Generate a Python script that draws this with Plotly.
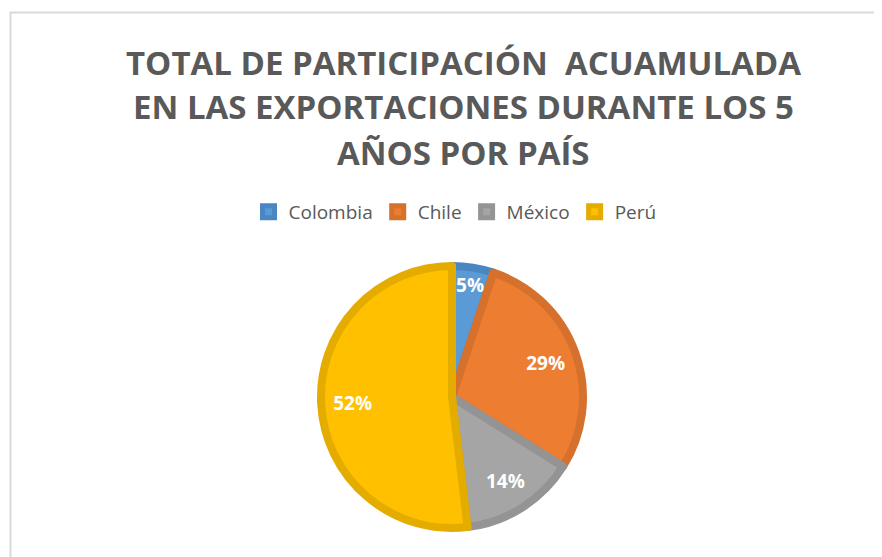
import plotly.graph_objects as go

paises = ["Colombia", "Chile", "México", "Perú"]
participacion = [5.1, 28.8, 14.2, 51.9]
colores_relleno = ["#5B9BD5", "#ED7D31", "#A5A5A5", "#FFC000"]
colores_borde = ["#4A86C2", "#D5712C", "#949494", "#E5AC00"]
titulo_lineas = ["TOTAL DE PARTICIPACIÓN  ACUAMULADA",
                 "EN LAS EXPORTACIONES DURANTE LOS 5",
                 "AÑOS POR PAÍS"]

W, H = 882, 557
OFF = 8  # default page body margin
cx, cy, r = 452 - OFF, 397 - OFF, 131

dom = dict(x=[(cx - r) / W, (cx + r) / W], y=[(H - cy - r) / H, (H - cy + r) / H])

fig = go.Figure()
fig.add_trace(go.Pie(
    labels=paises,
    values=participacion,
    sort=False,
    direction="clockwise",
    rotation=0,
    marker=dict(colors=colores_relleno, line=dict(color=colores_borde, width=8)),
    textinfo="none",
    hoverinfo="label+percent",
    domain=dom,
))
# label layer: transparent ring so percentages sit toward the rim
fig.add_trace(go.Pie(
    labels=paises,
    values=participacion,
    sort=False,
    direction="clockwise",
    rotation=0,
    hole=0.52,
    showlegend=False,
    marker=dict(colors=["rgba(0,0,0,0)"] * 4, line=dict(width=0)),
    texttemplate="%{percent:.0%}",
    textposition="inside",
    insidetextorientation="horizontal",
    textfont=dict(family="Open Sans", size=19, color="white", weight="bold"),
    hoverinfo="skip",
    domain=dom,
))

annotations = []
for linea, yc in zip(titulo_lineas, [63, 107.5, 153.5]):
    annotations.append(dict(text=linea, xref="paper", yref="paper",
                            x=(463.5 - OFF) / W, y=1 - (yc - 1 - OFF) / H,
                            xanchor="center", yanchor="middle", showarrow=False,
                            font=dict(family="Open Sans", size=33, color="#595959", weight="bold")))

fig.update_layout(
    width=W, height=H,
    margin=dict(l=0, r=0, t=0, b=0),
    paper_bgcolor="white",
    annotations=annotations,
    uniformtext=dict(minsize=19, mode="show"),
    legend=dict(orientation="h", x=(455 - OFF) / W, xanchor="center", y=1 - (212 - OFF) / H, yanchor="middle",
                font=dict(family="Open Sans", size=19, color="#595959"),
                itemclick=False, traceorder="normal"),
    shapes=[dict(type="rect", xref="paper", yref="paper", x0=(10.5 - OFF) / W, x1=1.05, y0=-0.05,
                 y1=1 - (12.5 - OFF) / H,
                 line=dict(color="#D9D9D9", width=2), fillcolor="rgba(0,0,0,0)", layer="below")],
)

fig.write_html("out.html")
